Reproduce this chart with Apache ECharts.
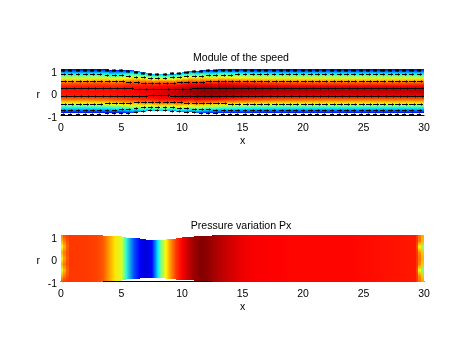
<!DOCTYPE html>
<html>
<head>
<meta charset="utf-8">
<style>html,body{margin:0;padding:0;background:#fff}#chart{width:467px;height:350px}</style>
<script src="https://cdn.jsdelivr.net/npm/echarts@6/dist/echarts.min.js"></script>
</head>
<body>
<div id="chart"></div>
<script>
// jet colormap
const jetPos = [0, 0.125, 0.375, 0.625, 0.875, 1]
const jetCol = [[0,0,143],[0,0,255],[0,255,255],[255,255,0],[255,0,0],[128,0,0]]

const xTicks = [0, 5, 10, 15, 20, 25, 30]
const rTicks = [-1, 0, 1]

// speed field: one profile per station, from the centre (eta 0) to the wall (eta 1)
const etaLevels = [0, 0.2, 0.35, 0.5, 0.6, 0.7, 0.8, 0.9, 1]
const speedX = [0,2,4,5,6,6.5,7,7.5,8,8.5,9,9.5,10,10.5,11,11.5,12,13,14,15,16,18,20,25,28,30]
const speedProfiles = [
  [.86,.85,.79,.67,.57,.46,.34,.22,.10],
  [.86,.85,.79,.67,.57,.46,.34,.22,.10],
  [.865,.85,.80,.69,.59,.48,.36,.24,.11],
  [.87,.855,.81,.71,.62,.51,.39,.27,.13],
  [.875,.86,.83,.75,.67,.57,.46,.33,.18],
  [.88,.865,.84,.77,.70,.60,.49,.37,.23],
  [.885,.87,.85,.78,.72,.62,.51,.39,.27],
  [.89,.88,.855,.79,.73,.64,.53,.41,.29],
  [.90,.885,.865,.81,.75,.66,.55,.42,.30],
  [.91,.895,.87,.81,.75,.655,.545,.41,.29],
  [.92,.905,.87,.805,.745,.65,.54,.40,.28],
  [.935,.915,.87,.80,.735,.64,.525,.385,.265],
  [.95,.93,.875,.795,.725,.63,.51,.37,.25],
  [.965,.94,.88,.79,.715,.615,.495,.355,.225],
  [.975,.95,.885,.785,.705,.60,.48,.34,.20],
  [.985,.955,.885,.775,.69,.58,.455,.315,.175],
  [.99,.96,.885,.765,.675,.56,.43,.29,.15],
  [.985,.955,.875,.75,.655,.54,.405,.265,.13],
  [.98,.945,.86,.735,.635,.52,.385,.25,.12],
  [.975,.935,.845,.72,.62,.505,.37,.24,.11],
  [.97,.925,.835,.705,.60,.49,.36,.23,.11],
  [.96,.91,.815,.69,.59,.48,.35,.225,.10],
  [.955,.905,.81,.685,.585,.475,.345,.22,.10],
  [.945,.90,.80,.68,.58,.47,.34,.22,.10],
  [.94,.895,.80,.68,.58,.47,.34,.22,.10],
  [.94,.895,.80,.68,.58,.47,.34,.22,.10]
]
const speedTop = [1.06,1.06,1.03,1.0,.95,.91,.87,.84,.84,.84,.86,.89,.93,.96,.98,1.0,1.02,1.04,1.06,1.06,1.06,1.06,1.06,1.06,1.06]
const speedBottom = [-.9,-.9,-.89,-.87,-.84,-.82,-.8,-.78,-.78,-.78,-.8,-.82,-.84,-.85,-.86,-.87,-.88,-.89,-.9,-.9,-.9,-.9,-.9,-.9,-.9]

// pressure along the duct
const pressX = [0,1,2,3,3.5,4,4.5,5,5.4,6,6.5,7,7.5,8,8.3,8.7,9,9.5,10,10.5,11,11.5,12,12.5,13,14,15,16,18,19,24,25,30]
const pressVal = [.83,.82,.82,.81,.79,.72,.65,.58,.42,.2,.12,.08,.13,.36,.5,.63,.72,.82,.875,.93,.97,.995,.99,.97,.95,.92,.89,.88,.875,.87,.87,.865,.85]
const pressTop = [1.06,1.06,1.06,1.06,1.02,1.02,1.02,.98,.93,.93,.89,.84,.84,.84,.84,.89,.89,.93,.98,.98,1.02,1.02,1.02,1.06,1.06,1.06,1.06,1.06,1.06,1.06,1.06,1.06]
const pressBottom = [-1.02,-1.02,-1.02,-1.02,-.96,-.96,-.96,-.92,-.88,-.88,-.84,-.84,-.84,-.84,-.84,-.88,-.88,-.92,-.92,-.92,-.96,-.96,-.96,-1.02,-1.02,-1.02,-1.02,-1.02,-1.02,-1.02,-1.02,-1.02]

// wobble at the two open ends of the pressure field, wall to wall
const endStripX = [[0,.2],[.2,.4],[.4,.7],[29.3,29.5],[29.5,29.75],[29.75,30]]
const endStripVal = [
  [.74,.70,.62,.70,.64,.70,.60,.70,.80],
  [.80,.76,.70,.76,.72,.76,.70,.76,.82],
  [.82,.80,.78,.80,.79,.80,.78,.80,.83],
  [.82,.82,.80,.82,.82,.82,.80,.82,.82],
  [.76,.76,.62,.74,.76,.74,.60,.74,.76],
  [.70,.70,.52,.68,.70,.68,.50,.68,.72]
]

// quiver rows of the speed plot
const arrowX = [0,.6,1.2,1.8,2.4,3,3.6,4.2,4.8,5.4,6,6.6,7.2,7.8,8.4,9,9.6,10.2,10.8,11.4,12,12.6,13.2,13.8,14.4,15,15.6,16.2,16.8,17.4,18,18.6,19.2,19.8,20.4,21,21.6,22.2,22.8,23.4,24,24.6,25.2,25.8,26.4,27,27.6,28.2,28.8,29.4]
const arrowNarrow = [1,1,1,1,1,1,.97,.97,.96,.93,.88,.84,.82,.8,.8,.84,.87,.9,.92,.94,.96,.97,.98,.99,1,1,1,1,1,1,1,1,1,1,1,1,1,1,1,1,1,1,1,1,1,1,1,1,1,1]
const arrowRows = [1.037,.82,.54,.22,-.13,-.47,-.75,-.93]
const arrowLen = [.34,.4,.5,.6,.6,.5,.4,.34]
const arrowWidth = [2,1,1,1,1,1,1,1]

function jet(v){
  let i = 0
  while(i < jetPos.length - 2 && v > jetPos[i+1]) i++
  let t = (v - jetPos[i]) / (jetPos[i+1] - jetPos[i])
  let c = jetCol[i].map((a, k) => Math.round(a + (jetCol[i+1][k] - a) * t))
  return 'rgb(' + c.join(',') + ')'
}

// rows of the custom series: x0, x1, r bottom, r top, index
function cells(xs, top, bottom){
  return top.map((t, i) => [xs[i], xs[i+1], bottom[i], t, i])
}

function cellRect(api){
  let a = api.coord([api.value(0), api.value(3)])
  let b = api.coord([api.value(1), api.value(2)])
  let x0 = Math.round(a[0]), x1 = Math.round(b[0])
  let y0 = Math.round(a[1]), y1 = Math.round(b[1])
  return {x: x0, y: y0, width: x1 - x0, height: y1 - y0}
}

// shading between two stations, painted in 2px slices
function renderSpeed(params, api){
  let i = api.value(4)
  let box = cellRect(api)
  let kids = []
  for(let px = 0; px < box.width; px += 2){
    let f = px / box.width
    let row = speedProfiles[i].map((v, k) => v + (speedProfiles[i+1][k] - v) * f)
    let stops = []
    for(let j = etaLevels.length - 1; j > 0; j--) stops.push({offset: (1 - etaLevels[j]) / 2, color: jet(row[j])})
    for(let j = 0; j < etaLevels.length; j++) stops.push({offset: (1 + etaLevels[j]) / 2, color: jet(row[j])})
    kids.push({
      type: 'rect',
      shape: {x: box.x + px, y: box.y, width: Math.min(2, box.width - px), height: box.height},
      style: {fill: new echarts.graphic.LinearGradient(0, 0, 0, 1, stops)}
    })
  }
  return {type: 'group', children: kids}
}

function renderPress(params, api){
  let i = api.value(4)
  return {
    type: 'rect',
    shape: cellRect(api),
    style: {fill: new echarts.graphic.LinearGradient(0, 0, 1, 0, [
      {offset: 0, color: jet(pressVal[i])},
      {offset: 1, color: jet(pressVal[i+1])}
    ])}
  }
}

function renderEnd(params, api){
  let vals = endStripVal[api.value(4)]
  let stops = vals.map((v, k) => ({offset: k / (vals.length - 1), color: jet(v)}))
  return {
    type: 'rect',
    shape: cellRect(api),
    style: {fill: new echarts.graphic.LinearGradient(0, 0, 0, 1, stops)}
  }
}

function renderArrow(params, api){
  let a = api.coord([api.value(0), api.value(1)])
  let b = api.coord([api.value(0) + api.value(2), api.value(1)])
  let y = Math.round(a[1]) + 0.5
  let x1 = Math.round(a[0]), x2 = Math.round(b[0])
  return {
    type: 'group',
    children: [
      {type: 'line', shape: {x1: x1, y1: y, x2: x2, y2: y}, style: {stroke: '#000', lineWidth: api.value(3)}},
      {type: 'line', shape: {x1: x2 - 1.5, y1: y - 1, x2: x2 - 1.5, y2: y + 1}, style: {stroke: '#000', lineWidth: 1}}
    ]
  }
}

let arrowData = []
arrowRows.forEach((r, j) => {
  arrowX.forEach((x, i) => {
    arrowData.push([x, r * arrowNarrow[i], arrowLen[j], arrowWidth[j]])
  })
})

const font = {fontFamily: 'Liberation Sans, Arial, sans-serif', fontSize: 10.5, color: '#000'}

function xAxis(gridIndex){
  return {
    type: 'value', gridIndex: gridIndex, min: 0, max: 30, interval: 5,
    axisLine: {show: true, onZero: false, lineStyle: {color: '#000', width: 1}},
    axisTick: {show: false}, splitLine: {show: false},
    axisLabel: Object.assign({margin: 7, formatter: v => xTicks.includes(v) ? v : ''}, font),
    name: 'x', nameLocation: 'middle', nameGap: 20, nameTextStyle: font
  }
}
function yAxis(gridIndex){
  return {
    type: 'value', gridIndex: gridIndex, min: -1, max: 1.06, interval: 1,
    axisLine: {show: false}, axisTick: {show: false}, splitLine: {show: false},
    axisLabel: Object.assign({margin: 4, verticalAlign: 'top', lineHeight: 5, showMaxLabel: false, formatter: v => rTicks.includes(v) ? v : ''}, font),
    name: 'r', nameLocation: 'middle', nameRotate: 0, nameGap: 21,
    nameTextStyle: Object.assign({verticalAlign: 'top', lineHeight: 5}, font)
  }
}

const myChart = echarts.init(document.getElementById('chart'), null, {renderer: 'canvas'})
myChart.setOption({
  animation: false,
  backgroundColor: '#fff',
  title: [
    {text: 'Module of the speed', left: 236, top: 48, textAlign: 'center',
     textStyle: {fontFamily: font.fontFamily, fontSize: 10.6, fontWeight: 'normal', color: '#000'}},
    {text: 'Pressure variation Px', left: 236, top: 216, textAlign: 'center',
     textStyle: {fontFamily: font.fontFamily, fontSize: 10.6, fontWeight: 'normal', color: '#000'}}
  ],
  grid: [
    {left: 61, width: 363, top: 69, height: 46.7},
    {left: 61, width: 363, top: 235, height: 46.7}
  ],
  xAxis: [xAxis(0), xAxis(1)],
  yAxis: [yAxis(0), yAxis(1)],
  series: [
    {type: 'custom', xAxisIndex: 0, yAxisIndex: 0, renderItem: renderSpeed, data: cells(speedX, speedTop, speedBottom), z: 2},
    {type: 'custom', xAxisIndex: 0, yAxisIndex: 0, renderItem: renderArrow, data: arrowData, z: 3},
    {type: 'custom', xAxisIndex: 1, yAxisIndex: 1, renderItem: renderPress, data: cells(pressX, pressTop, pressBottom), z: 2},
    {type: 'custom', xAxisIndex: 1, yAxisIndex: 1, renderItem: renderEnd, z: 3,
     data: endStripX.map((s, i) => [s[0], s[1], -1.02, 1.06, i])}
  ]
})
</script>
</body>
</html>
